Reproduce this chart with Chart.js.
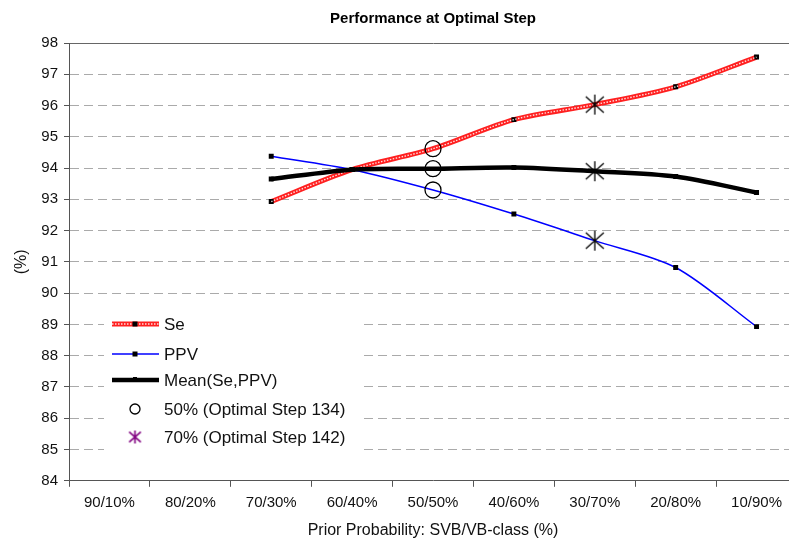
<!DOCTYPE html>
<html><head><meta charset="utf-8">
<script src="https://cdn.jsdelivr.net/npm/chart.js@4/dist/chart.umd.min.js"></script>
<style>html,body{margin:0;padding:0;background:#fff;overflow:hidden}#wrap{position:relative;width:797px;height:546px;overflow:hidden}canvas{display:block}</style>
</head><body><div id="wrap"><canvas id="c" width="797" height="546"></canvas></div>
<script>
// ---- data ----
const categories = ['90/10%','80/20%','70/30%','60/40%','50/50%','40/60%','30/70%','20/80%','10/90%'];
const seValues   = [null, null, 92.93, 93.95, 94.62, 95.55, 96.03, 96.60, 97.55];
const ppvValues  = [null, null, 94.38, 93.95, 93.30, 92.53, 91.68, 90.82, 88.93];
const meanValues = [null, null, 93.65, 93.95, 93.98, 94.02, 93.90, 93.73, 93.22];
const opt50Category = '50/50%';
const opt50Values = [94.62, 93.98, 93.30];
const opt70Category = '30/70%';
const opt70Values = [96.03, 93.90, 91.68];
const yMin = 84, yMax = 98, yStep = 1;

const F = '"Liberation Sans", Arial, sans-serif';

function makeStar(color, r, lw) {
  const s = Math.ceil(r * 2 + 4);
  const c = document.createElement('canvas');
  c.width = s; c.height = s;
  const g = c.getContext('2d');
  g.strokeStyle = color; g.lineWidth = lw;
  const m = s / 2;
  g.beginPath();
  g.moveTo(m, m - r); g.lineTo(m, m + r);
  g.moveTo(m - r * 0.9, m - r * 0.8); g.lineTo(m + r * 0.9, m + r * 0.8);
  g.moveTo(m - r * 0.9, m + r * 0.8); g.lineTo(m + r * 0.9, m - r * 0.8);
  g.stroke();
  return c;
}
const starBig = makeStar('#000', 10, 1.3);
const starLegend = makeStar('#800080', 6.5, 1.6);

const hideAtOptimal = ctx => (ctx.dataIndex === 4 || ctx.dataIndex === 6) ? 0 : 3.5;

const legendItems = [
  {label: 'Se', kind: 'se'},
  {label: 'PPV', kind: 'ppv'},
  {label: 'Mean(Se,PPV)', kind: 'mean'},
  {label: '50% (Optimal Step 134)', kind: 'circle'},
  {label: '70% (Optimal Step 142)', kind: 'star'}
];
const legendRowsY = [324, 354, 380, 409, 437];

function sq(ctx, x, y, s) { ctx.fillStyle = '#000'; ctx.fillRect(x - s / 2, y - s / 2, s, s); }

const insideLegend = {
  id: 'insideLegend',
  afterDatasetsDraw(chart) {
    const ctx = chart.ctx;
    ctx.save();
    ctx.fillStyle = '#fff';
    ctx.fillRect(104, 300, 256, 162);
    legendItems.forEach((it, i) => {
      const y = legendRowsY[i];
      const x0 = 112, x1 = 159, xm = 135;
      if (it.kind === 'se') {
        ctx.strokeStyle = '#ff2020'; ctx.lineWidth = 5;
        ctx.beginPath(); ctx.moveTo(x0, y); ctx.lineTo(x1, y); ctx.stroke();
        ctx.strokeStyle = 'rgba(255,255,255,0.85)'; ctx.lineWidth = 1.4; ctx.setLineDash([1.5, 1.5]);
        ctx.beginPath(); ctx.moveTo(x0, y); ctx.lineTo(x1, y); ctx.stroke();
        ctx.setLineDash([]);
        sq(ctx, xm, y, 5);
      } else if (it.kind === 'ppv') {
        ctx.strokeStyle = '#0000ff'; ctx.lineWidth = 1.5;
        ctx.beginPath(); ctx.moveTo(x0, y); ctx.lineTo(x1, y); ctx.stroke();
        sq(ctx, xm, y, 5);
      } else if (it.kind === 'mean') {
        ctx.strokeStyle = '#000'; ctx.lineWidth = 4.5;
        ctx.beginPath(); ctx.moveTo(x0, y); ctx.lineTo(x1, y); ctx.stroke();
        sq(ctx, xm, y - 1, 4);
      } else if (it.kind === 'circle') {
        ctx.strokeStyle = '#000'; ctx.lineWidth = 1.3;
        ctx.beginPath(); ctx.arc(xm, y, 5, 0, Math.PI * 2); ctx.stroke();
      } else if (it.kind === 'star') {
        ctx.drawImage(starLegend, xm - starLegend.width / 2, y - starLegend.height / 2);
      }
      ctx.fillStyle = '#111';
      ctx.font = '17px ' + F;
      ctx.textBaseline = 'middle';
      ctx.textAlign = 'left';
      ctx.fillText(it.label, 164, y + 1);
    });
    ctx.restore();
  }
};

new Chart(document.getElementById('c'), {
  type: 'line',
  data: {
    labels: categories,
    datasets: [
      {label: '50% (Optimal Step 134)', data: opt50Values.map(v => ({x: opt50Category, y: v})),
       showLine: false, pointStyle: 'circle', pointRadius: 8, borderColor: '#000', borderWidth: 1.3,
       backgroundColor: 'rgba(0,0,0,0)', order: 0},
      {label: '70% (Optimal Step 142)', data: opt70Values.map(v => ({x: opt70Category, y: v})),
       showLine: false, pointStyle: starBig, pointRadius: 10, borderColor: '#000', order: 0},
      {label: 'Mean(Se,PPV)', data: meanValues, borderColor: '#000', borderWidth: 4.5, tension: 0.3,
       pointStyle: 'rect', pointRadius: hideAtOptimal, pointBackgroundColor: '#000', pointBorderWidth: 0, order: 1},
      {label: 'PPV', data: ppvValues, borderColor: '#0000ff', borderWidth: 1.5, tension: 0.3,
       pointStyle: 'rect', pointRadius: hideAtOptimal, pointBackgroundColor: '#000', pointBorderWidth: 0, order: 2},
      {label: 'Se overlay', data: seValues, borderColor: 'rgba(255,255,255,0.85)', borderWidth: 1.4,
       borderDash: [1.5, 1.5], tension: 0.3, pointRadius: 0, order: 3},
      {label: 'Se', data: seValues, borderColor: '#ff2020', borderWidth: 5, tension: 0.3,
       pointStyle: 'rect', pointRadius: hideAtOptimal, pointBackgroundColor: '#000', pointBorderWidth: 0, order: 4}
    ]
  },
  options: {
    responsive: false,
    animation: false,
    layout: {autoPadding: false, padding: 0},
    plugins: {
      legend: {display: false},
      tooltip: {enabled: false},
      title: {display: true, text: 'Performance at Optimal Step', fullSize: false,
        font: {family: F, size: 15, weight: 'bold'}, color: '#000', padding: {top: 10, bottom: 15}}
    },
    scales: {
      x: {
        offset: true,
        grid: {display: true, drawOnChartArea: false, drawTicks: true, tickLength: 6, color: '#555', offset: true},
        border: {display: true, color: '#555', width: 1},
        ticks: {font: {family: F, size: 15}, color: '#111', padding: 7, maxRotation: 0, autoSkip: false},
        title: {display: true, text: 'Prior Probability: SVB/VB-class (%)', font: {family: F, size: 16},
          color: '#111', padding: {top: 2, bottom: 6}}
      },
      y: {
        min: yMin, max: yMax,
        ticks: {stepSize: yStep, font: {family: F, size: 15}, color: '#111', padding: 6},
        grid: {
          color: ctx => (ctx.tick && ctx.tick.value === yMax) ? '#666' : '#aaa',
          tickColor: '#555', tickLength: 5, drawTicks: true, lineWidth: 1
        },
        border: {display: true, color: '#555', width: 1,
          dash: ctx => (ctx.tick && ctx.tick.value === yMax) ? [] : [9, 5]},
        title: {display: true, text: '(%)', font: {family: F, size: 16}, color: '#111', padding: {top: 12, bottom: 0}},
        afterFit: s => { s.width = 69; }
      }
    }
  },
  plugins: [insideLegend]
});
</script>
</body></html>
